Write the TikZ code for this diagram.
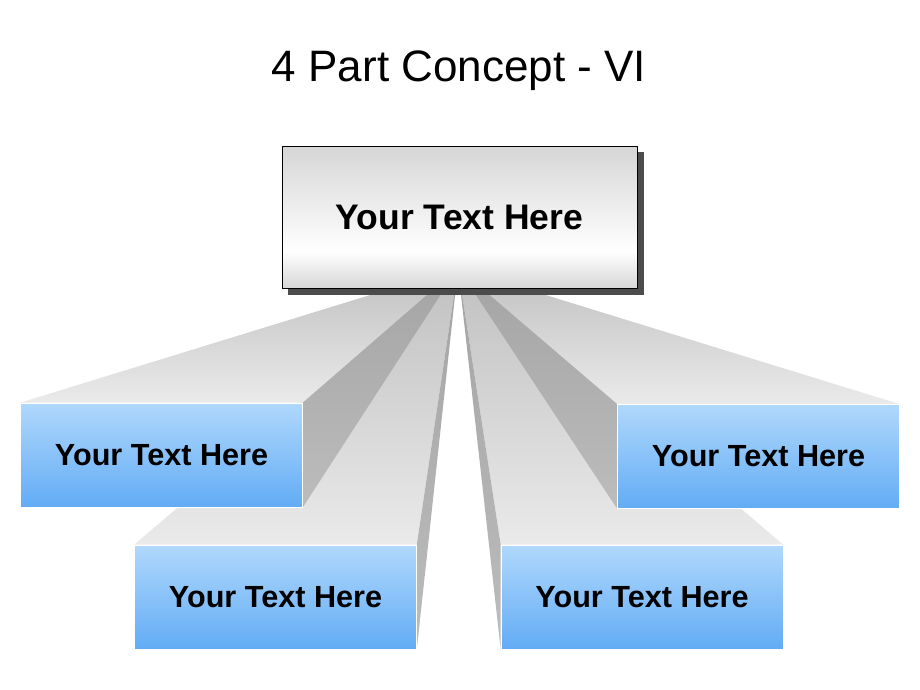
\documentclass[tikz,border=0pt]{standalone}
\usepackage{fontspec}
\setmainfont{Liberation Sans}
\pgfdeclarelayer{bg}
\pgfdeclarelayer{lowfaces}
\pgfdeclarelayer{lowfronts}
\pgfdeclarelayer{upfaces}
\pgfdeclarelayer{upfronts}
\pgfsetlayers{bg,lowfaces,lowfronts,upfaces,upfronts,main}

\definecolor{bluetop}{RGB}{176,216,252}
\definecolor{bluebot}{RGB}{98,172,245}
\definecolor{facetop}{RGB}{192,192,192}
\definecolor{facebot}{RGB}{234,234,234}
\definecolor{sidetop}{RGB}{164,164,164}
\definecolor{sidebot}{RGB}{188,188,188}
\definecolor{shadowgray}{RGB}{76,76,76}
\definecolor{boxgrey}{RGB}{214,214,214}

\pgfdeclareverticalshading{topboxshade}{100bp}{color(0bp)=(boxgrey); color(25bp)=(boxgrey); color(38bp)=(white); color(75bp)=(boxgrey); color(100bp)=(boxgrey)}

\tikzset{
  frontbox/.style={minimum width=282pt, minimum height=104pt, inner sep=0pt,
    top color=bluetop, bottom color=bluebot, draw=white, line width=0.6pt,
    font=\bfseries\fontsize{30.6}{35}\selectfont},
  topface/.style={top color=facetop, bottom color=facebot},
  sideface/.style={top color=sidetop, bottom color=sidebot},
  headbox/.style={minimum width=355pt, minimum height=142pt, inner sep=0pt,
    draw=black, line width=1pt, shading=topboxshade,
    font=\bfseries\fontsize{35.5}{41}\selectfont},
  titletext/.style={font=\fontsize{44}{50}\selectfont, anchor=base}
}

\begin{document}
\begin{tikzpicture}[x=1pt,y=-1pt]
\useasboundingbox (0,0) rectangle (920,690);
\begin{pgfonlayer}{bg}
\fill[white] (0,0) rectangle (920,690);
\end{pgfonlayer}

\node[titletext] (ttl) at (459,82) {4 Part Concept - VI};

\coordinate (vp) at (458,268);

% front faces
\begin{pgfonlayer}{lowfronts}
\node[frontbox] (ll) at (275.5,597) {Your Text Here};
\node[frontbox] (lr) at (642,597) {Your Text Here};
\end{pgfonlayer}
\begin{pgfonlayer}{upfronts}
\node[frontbox] (ul) at (161.5,455) {Your Text Here};
\node[frontbox] (ur) at (758.5,456.5) {Your Text Here};
\end{pgfonlayer}

% receding faces of the lower boxes
\begin{pgfonlayer}{lowfaces}
\path[topface] (ll.north west) -- (ll.north east) -- (vp) -- cycle;
\path[sideface] (ll.north east) -- (ll.south east) -- (vp) -- cycle;
\path[topface] (lr.north west) -- (lr.north east) -- (vp) -- cycle;
\path[sideface] (lr.north west) -- (lr.south west) -- (vp) -- cycle;
\end{pgfonlayer}

% receding faces of the upper boxes
\begin{pgfonlayer}{upfaces}
\path[topface] (ul.north west) -- (ul.north east) -- (vp) -- cycle;
\path[sideface] (ul.north east) -- (ul.south east) -- (vp) -- cycle;
\path[topface] (ur.north west) -- (ur.north east) -- (vp) -- cycle;
\path[sideface] (ur.north west) -- (ur.south west) -- (vp) -- cycle;
\end{pgfonlayer}

% head box with its shadow
\node[headbox] (top) at (459.5,217.5) {Your Text Here};
\begin{pgfonlayer}{upfronts}
\fill[shadowgray] ([shift={(6,6)}]top.north west) rectangle ([shift={(6,6)}]top.south east);
\end{pgfonlayer}
\end{tikzpicture}
\end{document}
